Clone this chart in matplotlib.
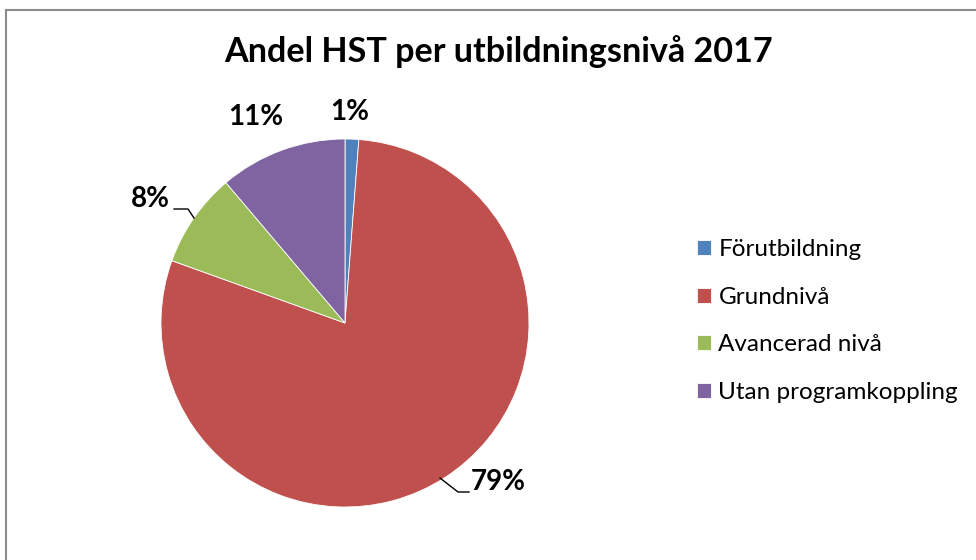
import matplotlib
matplotlib.use('Agg')
import matplotlib.pyplot as plt
from matplotlib.patches import Rectangle

# data (percent of HST)
niva = ['Förutbildning', 'Grundnivå', 'Avancerad nivå', 'Utan programkoppling']
andel = [1.2, 79.3, 8.3, 11.2]
etiketter = ['1%', '79%', '8%', '11%']
farger = ['#4F81BD', '#C0504D', '#9BBB59', '#8064A2']
titel = 'Andel HST per utbildningsnivå 2017'

plt.rcParams['font.family'] = ['Lato', 'DejaVu Sans']

W, H = 976, 560
fig = plt.figure(figsize=(W / 100, H / 100), dpi=100)
ax = fig.add_axes([0, 0, 1, 1])

# chart frame (cropped on right and bottom)
ax.add_patch(Rectangle((6, -20), W + 20, H + 20 - 10, fill=False,
                       edgecolor='#8c8c8c', linewidth=1.5))

cx, cy, r = 345, H - 323, 184
wedges, _ = ax.pie(andel, colors=farger, startangle=90, counterclock=False,
                   center=(cx, cy), radius=r, frame=True,
                   wedgeprops=dict(edgecolor='white', linewidth=0.6))
ax.set_xlim(0, W)
ax.set_ylim(0, H)
ax.set_aspect('equal')
ax.axis('off')

fig.text(498 / W, 1 - 52 / H, titel, ha='center', va='center',
         fontsize=24.6, fontweight='bold')

# data labels (pixel positions from the reference)
lab_pos = [(350, 112), (498, 482), (150, 199), (256, 117)]
for txt, (x, y) in zip(etiketter, lab_pos):
    ax.text(x, H - y, txt, ha='center', va='center', fontsize=20,
            fontweight='bold')

# leader lines
ax.plot([174, 188, 194], [H - 209, H - 209, H - 218], color='black', lw=1)
ax.plot([440, 458, 469], [H - 478, H - 492, H - 492], color='black', lw=1)

leg = ax.legend(wedges, niva, loc='center left',
                bbox_to_anchor=(697 / W, 1 - 321 / H),
                bbox_transform=fig.transFigure, frameon=False,
                fontsize=17.5, borderpad=0, borderaxespad=0,
                handlelength=0.58, handleheight=0.58, handletextpad=0.3,
                labelspacing=1.09)

fig.savefig('out.png', dpi=100)
